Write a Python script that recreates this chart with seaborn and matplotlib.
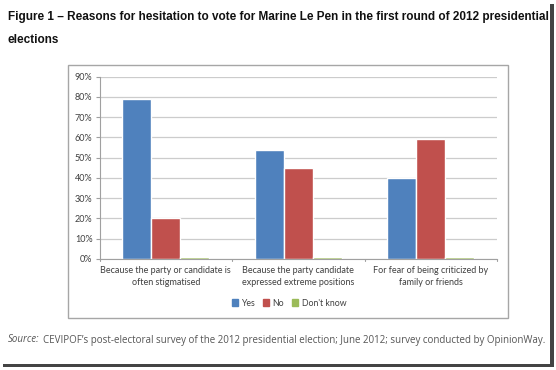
import matplotlib
matplotlib.use('Agg')
import matplotlib.pyplot as plt
import matplotlib.patches as mpatches
import seaborn as sns
import pandas as pd
from matplotlib.ticker import PercentFormatter

# data
categories = [
    "Because the party or candidate is\noften stigmatised",
    "Because the party candidate\nexpressed extreme positions",
    "For fear of being criticized by\nfamily or friends",
]
answers = ["Yes", "No", "Don't know"]
yes_vals = [0.79, 0.54, 0.40]
no_vals = [0.20, 0.45, 0.59]
dk_vals = [0.01, 0.01, 0.01]
yticks = [0, 0.1, 0.2, 0.3, 0.4, 0.5, 0.6, 0.7, 0.8, 0.9]

palette = ["#4F81BD", "#C0504D", "#9BBB59"]

rows = []
for ans, vals in zip(answers, [yes_vals, no_vals, dk_vals]):
    for cat, v in zip(categories, vals):
        rows.append({"reason": cat, "answer": ans, "share": v})
df = pd.DataFrame(rows)

sns.set_style("white")
plt.rcParams['font.family'] = ['Lato', 'DejaVu Sans']

W, H = 556, 370
fig = plt.figure(figsize=(W / 100, H / 100), dpi=100)
fig.patch.set_facecolor("white")

# drop shadow of the screenshot
fig.add_artist(mpatches.Rectangle((550 / W, 1 - 367 / H), 3.5 / W, 363 / H,
                                  transform=fig.transFigure, color="#444444", lw=0))
fig.add_artist(mpatches.Rectangle((3 / W, 1 - 367 / H), 550.5 / W, 3.5 / H,
                                  transform=fig.transFigure, color="#444444", lw=0))

# chart frame
fig.add_artist(mpatches.Rectangle((67.5 / W, 1 - 318 / H), 440.5 / W, 253.5 / H,
                                  transform=fig.transFigure, fill=False,
                                  edgecolor="#a6a6a6", lw=1))

ax = fig.add_axes([99.5 / W, 1 - 259 / H, 397.5 / W, 182.3 / H])
sns.barplot(data=df, x="reason", y="share", hue="answer", palette=palette,
            width=0.66, gap=0, saturation=1, ax=ax, legend=False)

ax.set_ylim(0, 0.9)
ax.set_xlim(-0.5, 2.5)
ax.set_yticks(yticks)
ax.yaxis.set_major_formatter(PercentFormatter(1.0, decimals=0))
ax.grid(axis="y", color="#cccccc", lw=0.9)
ax.set_axisbelow(True)
ax.set_xlabel("")
ax.set_ylabel("")
for s in ["top", "right"]:
    ax.spines[s].set_visible(False)
ax.spines["left"].set_color("#a0a0a0")
ax.spines["bottom"].set_color("#a0a0a0")
ax.tick_params(axis="y", labelsize=6.5, colors="#a0a0a0", length=3, width=0.8,
               direction="out", left=True, pad=2)
for t in ax.get_yticklabels():
    t.set_color("#404040")
ax.set_xticks([0, 1, 2])
ax.set_xticklabels(categories, fontsize=6.5, color="#404040", linespacing=1.4)
ax.tick_params(axis="x", length=0, pad=5)
# category separator ticks
for xb in [-0.5, 0.5, 1.5, 2.5]:
    ax.plot([xb, xb], [0, -0.012], color="#a0a0a0", lw=0.8, clip_on=False)

handles = [mpatches.Patch(color=c, label=a) for c, a in zip(palette, answers)]
fig.legend(handles=handles, loc="center", bbox_to_anchor=(289 / W, 1 - 303 / H),
           ncol=3, frameon=False, fontsize=6.3, handlelength=0.7, handleheight=0.7,
           handletextpad=0.4, columnspacing=0.9, labelcolor="#404040")

fig.text(8 / W, 1 - 17 / H,
         "Figure 1 \u2013 Reasons for hesitation to vote for Marine Le Pen in the first round of 2012 presidential",
         fontsize=8.5, fontweight="bold", family="Liberation Sans", va="center", color="#111111")
fig.text(8 / W, 1 - 40 / H, "elections",
         fontsize=8.5, fontweight="bold", family="Liberation Sans", va="center", color="#111111")

src = fig.text(8 / W, 1 - 340 / H, "Source:", fontsize=7, style="italic",
               family="Open Sans", va="center", color="#555555")
fig.canvas.draw()
bb = src.get_window_extent()
fig.text((bb.x1 + 3) / W, 1 - 340 / H,
         "CEVIPOF\u2019s post-electoral survey of the 2012 presidential election; June 2012; survey conducted by OpinionWay.",
         fontsize=7, family="Open Sans", va="center", color="#555555")

fig.savefig("out.png", dpi=100)
